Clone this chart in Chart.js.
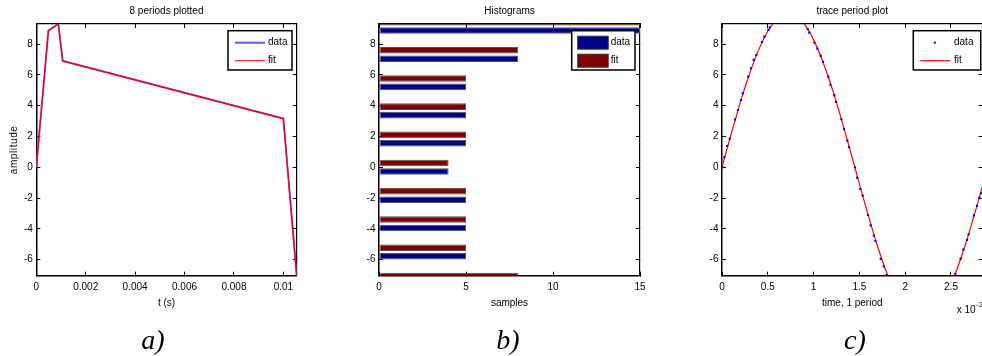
<!DOCTYPE html>
<html>
<head>
<meta charset="utf-8">
<script src="https://cdn.jsdelivr.net/npm/chart.js@4"></script>
<style>
  body { margin: 0; background: #fff; width: 982px; height: 356px; overflow: hidden; position: relative; }
  canvas { position: absolute; top: 0; }
  .tag { position: absolute; top: 324px; width: 60px; text-align: center; line-height: 28px;
         font: italic 28px 'Liberation Serif', 'Times New Roman', serif; }
</style>
</head>
<body>
<canvas id="chartA" width="327" height="356" style="left:0px"></canvas>
<canvas id="chartB" width="330" height="356" style="left:327px"></canvas>
<canvas id="chartC" width="333" height="356" style="left:657px"></canvas>
<div class="tag" style="left:123px">a)</div>
<div class="tag" style="left:478px">b)</div>
<div class="tag" style="left:825px">c)</div>
<script>
// shared amplitude axis
var amplitudeTicks = [-6, -4, -2, 0, 2, 4, 6, 8];
var amplitudeMin = -7.04, amplitudeMax = 9.3;

// a) 8 periods plotted
var periodTime = [0, 0.00049, 0.00089, 0.00107, 0.01, 0.01054];
var periodData = [0, 8.87, 9.3, 6.9, 3.16, -7.04];
var periodFit = [0, 8.87, 9.3, 6.9, 3.16, -7.04];
var periodTicks = [0, 0.002, 0.004, 0.006, 0.008, 0.01];

// b) histograms
var binCenters = [-7.33, -5.5, -3.67, -1.83, 0, 1.83, 3.66, 5.49, 7.32, 9.15];
var histData = [8, 5, 5, 5, 4, 5, 5, 5, 8, 15];
var histFit = [8, 5, 5, 5, 4, 5, 5, 5, 8, 15];
var sampleTicks = [0, 5, 10, 15];

// c) trace period plot, time in x 10^-3 s
var traceTime = [0.007, 0.025, 0.055, 0.084, 0.142, 0.175, 0.207, 0.226, 0.287, 0.317, 0.346, 0.375, 0.437, 0.462, 0.506, 0.521,
  0.935, 0.953, 1.008, 1.041, 1.078, 1.103, 1.161, 1.183, 1.226, 1.245, 1.303, 1.332, 1.368, 1.387,
  1.452, 1.474, 1.510, 1.536, 1.594, 1.623, 1.659, 1.674, 1.733, 1.766, 1.798,
  2.547, 2.605, 2.635, 2.675, 2.693, 2.751, 2.784, 2.809, 2.827];
var traceData = [0, 0.65, 1.38, 1.86, 3.11, 3.72, 4.37, 4.8, 5.88, 6.43, 6.97, 7.29, 8.12, 8.48, 8.92, 9.09,
  8.96, 8.74, 8.09, 7.7, 7.23, 6.84, 5.88, 5.36, 4.68, 4.24, 3.12, 2.47, 1.73, 1.3,
  0, -0.68, -1.41, -1.84, -3.1, -3.77, -4.44, -4.79, -5.95, -6.44, -7.0,
  -6.93, -5.93, -5.35, -4.72, -4.35, -3.12, -2.51, -1.97, -1.69];
var fitTime = [0, 0.1, 0.2, 0.3, 0.4, 0.5, 0.6, 0.7, 0.8, 0.9, 1.0, 1.1, 1.2, 1.3, 1.4,
  1.5, 1.6, 1.7, 1.8, 1.9, 2.0, 2.1, 2.2, 2.3, 2.4, 2.5, 2.6, 2.7, 2.8, 2.9];
var fitValues = [0, 2.15, 4.2, 6.05, 7.62, 8.83, 9.64, 9.99, 9.87, 9.29, 8.27, 6.87, 5.16, 3.19, 1.08,
  -1.08, -3.19, -5.16, -6.88, -8.27, -9.29, -9.87, -9.99, -9.64, -8.83, -7.62, -6.05, -4.2, -2.15, 0];
var traceTicks = [0, 0.5, 1, 1.5, 2, 2.5];

var FONT = "'Liberation Sans', Arial, sans-serif";
Chart.defaults.font.family = FONT;
Chart.defaults.font.size = 10;
Chart.defaults.color = '#000';

function pts(xs, ys) {
  return xs.map(function(x, i) { return { x: x, y: ys[i] }; });
}

// matlab style axis: inward ticks, no grid, fixed size
function axis(pos, min, max, list, size, labels, bw) {
  var vertical = pos == 'left' || pos == 'right';
  return {
    type: 'linear', position: pos, min: min, max: max, offset: false,
    afterBuildTicks: function(s) { s.ticks = list.map(function(v) { return { value: v }; }); },
    afterFit: function(s) { if (vertical) s.width = size; else s.height = size; },
    grid: { drawOnChartArea: false, drawTicks: true, tickLength: -4, offset: false, color: '#000', lineWidth: 1 },
    border: { display: true, color: '#000', width: bw },
    ticks: { display: labels, padding: vertical ? 7.5 : 9.5, color: '#000', maxRotation: 0, autoSkip: false,
             callback: function(v) { return String(v); } }
  };
}

var decor = {
  id: 'decor',
  afterDraw: function(chart, args, o) {
    var ctx = chart.ctx, a = chart.chartArea, cx = (a.left + a.right) / 2;
    ctx.save();
    ctx.fillStyle = '#000';
    ctx.font = '10px ' + FONT;
    ctx.textAlign = 'center';
    ctx.textBaseline = 'alphabetic';
    ctx.fillText(o.title, cx, 13.5);
    ctx.fillText(o.xLabel, cx, 306);
    if (o.yLabel) {
      ctx.save();
      ctx.translate(14, (a.top + a.bottom) / 2);
      ctx.rotate(-Math.PI / 2);
      ctx.textBaseline = 'middle';
      ctx.letterSpacing = '0.6px';
      ctx.fillText(o.yLabel, 0, 0);
      ctx.restore();
    }
    if (o.exponent) {
      ctx.textAlign = 'left';
      ctx.fillText('x 10', o.exponent.x, o.exponent.y);
      var w = ctx.measureText('x 10').width;
      ctx.font = '8px ' + FONT;
      ctx.fillText('-3', o.exponent.x + w + 0.5, o.exponent.y - 6);
    }
    // legend box
    var L = o.legend;
    ctx.fillStyle = '#fff';
    ctx.fillRect(L.x, L.y, L.w, L.h);
    ctx.strokeStyle = '#000';
    ctx.lineWidth = 1.5;
    ctx.strokeRect(L.x, L.y, L.w, L.h);
    ctx.font = '10px ' + FONT;
    ctx.textAlign = 'left';
    ctx.textBaseline = 'middle';
    L.items.forEach(function(it, i) {
      var y = L.y + 12 + i * 18;
      if (it.kind == 'line') {
        ctx.strokeStyle = it.color;
        ctx.lineWidth = it.width || 1;
        ctx.beginPath(); ctx.moveTo(L.x + 7, y); ctx.lineTo(L.x + 37, y); ctx.stroke();
      } else if (it.kind == 'rect') {
        ctx.fillStyle = it.color;
        ctx.fillRect(L.x + 6, y - 6.5, 30.5, 13);
        ctx.strokeStyle = '#333'; ctx.lineWidth = 1;
        ctx.strokeRect(L.x + 6, y - 6.5, 30.5, 13);
      } else {
        ctx.fillStyle = it.color;
        ctx.fillRect(L.x + 20.5, y - 1, 2, 2);
      }
      ctx.fillStyle = '#000';
      ctx.fillText(it.label, L.x + L.tx, y);
    });
    ctx.restore();
  }
};

function baseOptions(padRight, decorOpts) {
  return {
    responsive: false,
    animation: false,
    events: [],
    layout: { padding: { left: 0, right: padRight, top: 24, bottom: 0 } },
    plugins: { legend: { display: false }, tooltip: { enabled: false }, decor: decorOpts }
  };
}

// a) 8 periods plotted
var optA = baseOptions(30.3, {
  title: '8 periods plotted', xLabel: 't (s)', yLabel: 'amplitude',
  legend: { x: 228, y: 30.7, w: 64, h: 39.3, tx: 40, items: [
    { label: 'data', kind: 'line', color: '#5a5aff', width: 2 },
    { label: 'fit', kind: 'line', color: '#ff0000', width: 1 }] }
});
optA.scales = {
  x: axis('bottom', 0, 0.01054, periodTicks, 80.3, true, 1.5),
  y: axis('left', amplitudeMin, amplitudeMax, amplitudeTicks, 36.3, true, 1.5),
  xTop: axis('top', 0, 0.01054, periodTicks, 0, false, 1.2),
  yRight: axis('right', amplitudeMin, amplitudeMax, amplitudeTicks, 0, false, 1.2)
};
new Chart(document.getElementById('chartA'), {
  type: 'line',
  data: {
    datasets: [
      { label: 'fit', data: pts(periodTime, periodFit), borderColor: '#ff0000', borderWidth: 1.3, pointRadius: 0, xAxisID: 'x', yAxisID: 'y' },
      { label: 'data', data: pts(periodTime, periodData), borderColor: '#6a5aee', borderWidth: 1.8, pointRadius: 0, xAxisID: 'x', yAxisID: 'y' }
    ]
  },
  options: optA,
  plugins: [decor]
});

// b) histograms
var optB = baseOptions(17, {
  title: 'Histograms', xLabel: 'samples',
  legend: { x: 244.7, y: 30.7, w: 63.3, h: 39.3, tx: 39, items: [
    { label: 'data', kind: 'rect', color: '#00008f' },
    { label: 'fit', kind: 'rect', color: '#800000' }] }
});
optB.indexAxis = 'y';
optB.scales = {
  x: axis('bottom', 0, 15, sampleTicks, 80.3, true, 1.5),
  y: axis('left', amplitudeMin, amplitudeMax, amplitudeTicks, 52, true, 1.5),
  xTop: axis('top', 0, 15, sampleTicks, 0, false, 1.2),
  yRight: axis('right', amplitudeMin, amplitudeMax, amplitudeTicks, 0, false, 1.2)
};
var barStyle = { borderColor: '#555', borderWidth: 1, borderSkipped: false, categoryPercentage: 0.6, barPercentage: 0.78,
                 clip: 0, xAxisID: 'x', yAxisID: 'y' };
new Chart(document.getElementById('chartB'), {
  type: 'bar',
  data: {
    datasets: [
      Object.assign({ label: 'fit', data: pts(histFit, binCenters), backgroundColor: '#800000' }, barStyle),
      Object.assign({ label: 'data', data: pts(histData, binCenters), backgroundColor: '#00008f' }, barStyle)
    ]
  },
  options: optB,
  plugins: [decor]
});

// c) trace period plot
var optC = baseOptions(7.5, {
  title: 'trace period plot', xLabel: 'time, 1 period',
  exponent: { x: 299.7, y: 313 },
  legend: { x: 256.3, y: 30.7, w: 67.4, h: 39.3, tx: 40.7, items: [
    { label: 'data', kind: 'dot', color: '#0000ff' },
    { label: 'fit', kind: 'line', color: '#ff0000', width: 1.2 }] }
});
optC.scales = {
  x: axis('bottom', 0, 2.844, traceTicks, 80.3, true, 1.5),
  y: axis('left', amplitudeMin, amplitudeMax, amplitudeTicks, 65, true, 1.5),
  xTop: axis('top', 0, 2.844, traceTicks, 0, false, 1.2),
  yRight: axis('right', amplitudeMin, amplitudeMax, amplitudeTicks, 0, false, 1.2)
};
new Chart(document.getElementById('chartC'), {
  type: 'scatter',
  data: {
    datasets: [
      { label: 'data', data: pts(traceTime, traceData), showLine: false, pointStyle: 'rect', pointRadius: 1.5,
        pointBorderWidth: 0, backgroundColor: '#0000ff', xAxisID: 'x', yAxisID: 'y' },
      { label: 'fit', data: pts(fitTime, fitValues), showLine: true, borderColor: '#ff0000', borderWidth: 1.2,
        tension: 0.3, pointRadius: 0, xAxisID: 'x', yAxisID: 'y' }
    ]
  },
  options: optC,
  plugins: [decor]
});
</script>
</body>
</html>
